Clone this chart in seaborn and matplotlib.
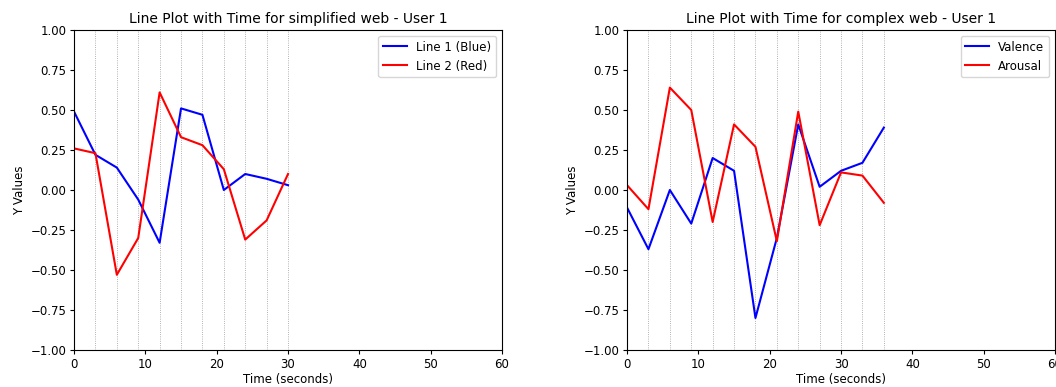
import numpy as np
import pandas as pd
import matplotlib
matplotlib.use("Agg")
import matplotlib.pyplot as plt
import seaborn as sns

# simplified web - User 1
time_simple = [0, 3, 6, 9, 12, 15, 18, 21, 24, 27, 30]
line1_blue = [0.49, 0.22, 0.14, -0.06, -0.33, 0.51, 0.47, 0.00, 0.10, 0.07, 0.03]
line2_red = [0.26, 0.23, -0.53, -0.30, 0.61, 0.33, 0.28, 0.13, -0.31, -0.19, 0.10]

# complex web - User 1
time_complex = [0, 3, 6, 9, 12, 15, 18, 21, 24, 27, 30, 33, 36]
valence = [-0.11, -0.37, 0.00, -0.21, 0.20, 0.12, -0.80, -0.30, 0.41, 0.02, 0.12, 0.17, 0.39]
arousal = [0.03, -0.12, 0.64, 0.50, -0.20, 0.41, 0.27, -0.32, 0.49, -0.22, 0.11, 0.09, -0.08]

plt.rcParams['font.family'] = ['DejaVu Sans']

fig = plt.figure(figsize=(10.56, 3.87), dpi=100)
ax1 = fig.add_axes([0.0701, 0.0956, 0.4053, 0.8269])
ax2 = fig.add_axes([0.5938, 0.0956, 0.4053, 0.8269])


def draw(ax, t, a, b, la, lb, title):
    sns.lineplot(x=t, y=a, ax=ax, color='blue', label=la, linewidth=1.5)
    sns.lineplot(x=t, y=b, ax=ax, color='red', label=lb, linewidth=1.5)
    for x in t:
        ax.axvline(x, color='gray', linestyle=':', linewidth=0.6, alpha=0.8, zorder=0)
    ax.set_xlim(0, 60)
    ax.set_ylim(-1, 1)
    ax.set_yticks(np.arange(-1, 1.01, 0.25))
    ax.set_title(title, fontsize=10, pad=5)
    ax.set_xlabel('Time (seconds)', fontsize=8.5, labelpad=2)
    ax.set_ylabel('Y Values', fontsize=8.5, labelpad=3)
    ax.tick_params(labelsize=8.5, length=3, pad=2.5)
    ax.legend(loc='upper right', fontsize=8.5)


draw(ax1, time_simple, line1_blue, line2_red, 'Line 1 (Blue)', 'Line 2 (Red)',
     'Line Plot with Time for simplified web - User 1')
draw(ax2, time_complex, valence, arousal, 'Valence', 'Arousal',
     'Line Plot with Time for complex web - User 1')

fig.savefig('out.png', dpi=100)
